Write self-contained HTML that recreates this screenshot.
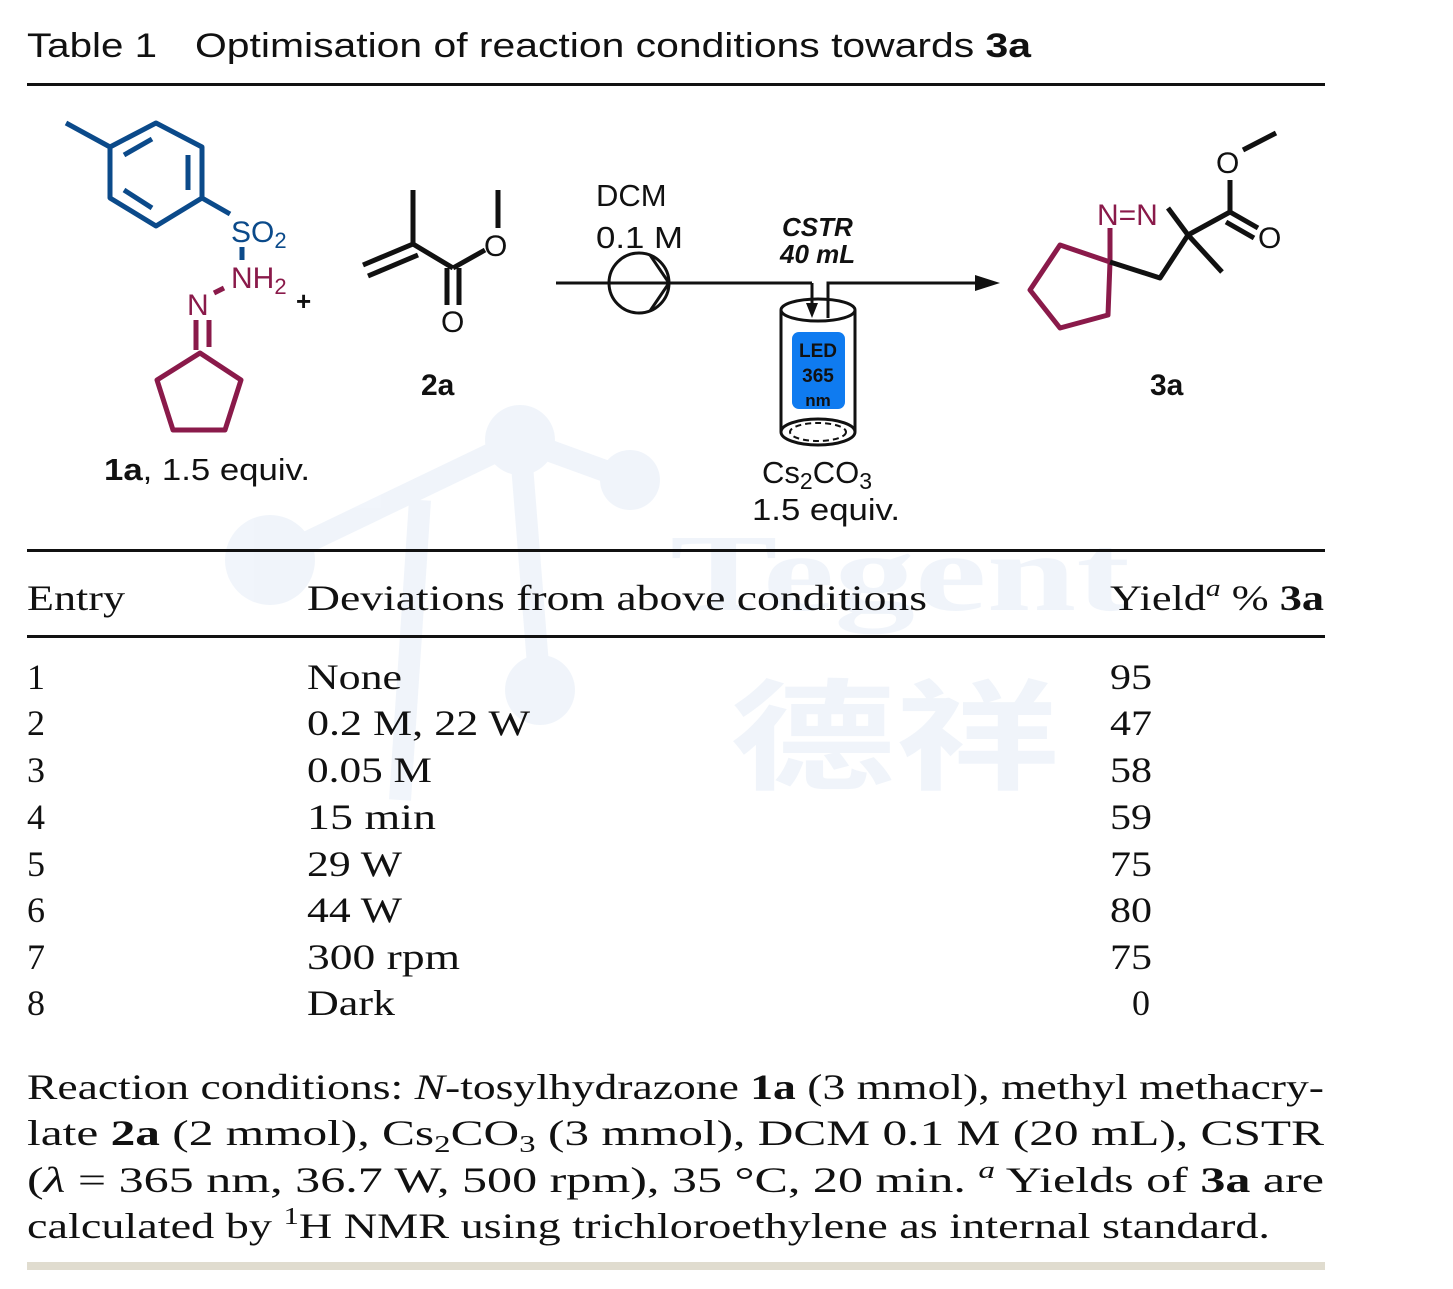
<!DOCTYPE html>
<html><head><meta charset="utf-8"><style>
html,body{margin:0;padding:0;background:#fff;}
svg{display:block;}
.s{font-family:"Liberation Sans",sans-serif;}
.r{font-family:"Liberation Serif",serif;font-size:36px;fill:#111;}
</style></head><body>
<svg width="1453" height="1289" viewBox="0 0 1453 1289" xmlns="http://www.w3.org/2000/svg">
<!-- watermark -->
<g opacity="0.07" fill="#3b78c4" stroke="#3b78c4">
<g stroke-width="22" fill="none"><line x1="270" y1="560" x2="520" y2="440"/><line x1="520" y1="440" x2="630" y2="480"/><line x1="520" y1="440" x2="540" y2="690"/><line x1="420" y1="500" x2="400" y2="800"/></g>
<circle cx="270" cy="560" r="45" stroke="none"/><circle cx="520" cy="440" r="35" stroke="none"/><circle cx="630" cy="480" r="30" stroke="none"/><circle cx="540" cy="690" r="35" stroke="none"/>
<text x="670" y="610" font-family="Liberation Serif,serif" font-weight="bold" font-size="110" stroke="none" textLength="460" lengthAdjust="spacingAndGlyphs">Tegent</text>
<text x="730" y="780" font-family="Noto Sans CJK SC,sans-serif" font-weight="bold" font-size="120" stroke="none" textLength="330" lengthAdjust="spacingAndGlyphs">德祥</text>
</g>
<text x="27" y="57" class="s" font-size="34" fill="#111" textLength="130" lengthAdjust="spacingAndGlyphs">Table 1</text>
<text x="195" y="57" class="s" font-size="34" fill="#111" textLength="836" lengthAdjust="spacingAndGlyphs">Optimisation of reaction conditions towards <tspan font-weight="bold">3a</tspan></text>
<rect x="27" y="83" width="1298" height="3" fill="#111"/>
<!-- 1a -->
<g stroke="#0b4a8a" stroke-width="5" fill="none" stroke-linejoin="round">
<polygon points="110,147 156,123 202,147 202,198 156,226 110,198"/>
<line x1="124" y1="155" x2="152" y2="139"/><line x1="188" y1="155" x2="188" y2="190"/><line x1="124" y1="190" x2="152" y2="208"/>
<line x1="66" y1="123" x2="110" y2="147"/><line x1="202" y1="198" x2="230" y2="214"/>
<line x1="242" y1="247" x2="242" y2="260"/>
</g>
<text x="231" y="242" class="s" font-size="30" fill="#0b4a8a">SO<tspan font-size="22" dy="6">2</tspan></text>
<g stroke="#8a1a4a" stroke-width="5" fill="none" stroke-linejoin="round">
<polygon points="200,353 241,380 225,430 173,430 157,380"/>
<line x1="196" y1="320" x2="196" y2="350"/><line x1="209" y1="320" x2="209" y2="347"/>
<line x1="214" y1="293" x2="224" y2="288"/>
</g>
<text x="231" y="288" class="s" font-size="30" fill="#8a1a4a">NH<tspan font-size="22" dy="6">2</tspan></text>
<text x="187" y="315" class="s" font-size="30" fill="#8a1a4a">N</text>
<text x="296" y="310" class="s" font-size="26" font-weight="bold" fill="#111">+</text>
<text x="104" y="480" class="s" font-size="31" fill="#111" textLength="206" lengthAdjust="spacingAndGlyphs"><tspan font-weight="bold">1a</tspan>, 1.5 equiv.</text>
<!-- 2a -->
<g stroke="#111" stroke-width="5" fill="none">
<line x1="413" y1="190" x2="413" y2="244"/><line x1="413" y1="244" x2="453" y2="268"/>
<line x1="413" y1="244" x2="363" y2="265"/><line x1="418" y1="255" x2="368" y2="276"/>
<line x1="453" y1="268" x2="485" y2="250"/>
<line x1="447" y1="268" x2="447" y2="305"/><line x1="459" y1="268" x2="459" y2="305"/>
<line x1="498" y1="190" x2="498" y2="228"/>
</g>
<text x="484" y="256" class="s" font-size="30" fill="#111">O</text>
<text x="441" y="332" class="s" font-size="30" fill="#111">O</text>
<text x="421" y="395" class="s" font-size="30" font-weight="bold" fill="#111">2a</text>
<!-- flow -->
<g stroke="#111" stroke-width="3" fill="none">
<line x1="556" y1="283" x2="812" y2="283"/><line x1="812" y1="283" x2="812" y2="312"/>
<circle cx="639" cy="283" r="30"/><line x1="650" y1="255" x2="669" y2="283"/><line x1="650" y1="311" x2="669" y2="283"/>
<polyline points="828,318 828,283 985,283"/>
<path d="M781,310 L781,432 M855,310 L855,432"/>
<ellipse cx="818" cy="310" rx="37" ry="11"/><ellipse cx="818" cy="432" rx="37" ry="13"/>
<ellipse cx="818" cy="432" rx="28" ry="9" stroke-dasharray="6,4" stroke-width="2"/>
</g>
<polygon points="1000,283 975,275 975,291" fill="#111"/>
<polygon points="812,318 806,303 818,303" fill="#111"/>
<rect x="792" y="332" width="53" height="77" rx="7" fill="#0f7bf0"/>
<text x="818" y="357" class="s" font-size="19" font-weight="bold" text-anchor="middle" fill="#111">LED</text>
<text x="818" y="382" class="s" font-size="19" font-weight="bold" text-anchor="middle" fill="#111">365</text>
<text x="818" y="406" class="s" font-size="17" font-weight="bold" text-anchor="middle" fill="#111">nm</text>
<text x="596" y="206" class="s" font-size="31" fill="#111">DCM</text>
<text x="596" y="248" class="s" font-size="31" fill="#111" textLength="87" lengthAdjust="spacingAndGlyphs">0.1 M</text>
<text x="782" y="236" class="s" font-size="26" font-weight="bold" font-style="italic" fill="#111">CSTR</text>
<text x="780" y="263" class="s" font-size="26" font-weight="bold" font-style="italic" fill="#111">40 mL</text>
<text x="762" y="483" class="s" font-size="31" fill="#111">Cs<tspan font-size="23" dy="6">2</tspan><tspan dy="-6">CO</tspan><tspan font-size="23" dy="6">3</tspan></text>
<text x="752" y="520" class="s" font-size="31" fill="#111" textLength="148" lengthAdjust="spacingAndGlyphs">1.5 equiv.</text>
<!-- 3a -->
<g stroke="#8a1a4a" stroke-width="5" fill="none" stroke-linejoin="round">
<polygon points="1110,262 1108,315 1060,328 1030,290 1060,245"/>
<line x1="1110" y1="262" x2="1110" y2="228"/>
</g>
<g stroke="#111" stroke-width="5" fill="none" stroke-linejoin="round">
<polyline points="1110,262 1160,278 1188,235 1222,272"/>
<line x1="1188" y1="235" x2="1168" y2="208"/>
<line x1="1188" y1="235" x2="1230" y2="212"/>
<line x1="1230" y1="212" x2="1230" y2="180"/>
<line x1="1230" y1="212" x2="1258" y2="228"/><line x1="1226" y1="222" x2="1254" y2="238"/>
<line x1="1243" y1="150" x2="1276" y2="133"/>
</g>
<text x="1097" y="225" class="s" font-size="30" fill="#8a1a4a">N=N</text>
<text x="1216" y="173" class="s" font-size="30" fill="#111">O</text>
<text x="1258" y="248" class="s" font-size="30" fill="#111">O</text>
<text x="1150" y="395" class="s" font-size="30" font-weight="bold" fill="#111">3a</text>
<!-- table -->
<rect x="27" y="549" width="1298" height="3" fill="#111"/>
<rect x="27" y="635" width="1298" height="3" fill="#111"/>
<text x="27" y="610" class="r" textLength="98" lengthAdjust="spacingAndGlyphs">Entry</text>
<text x="307" y="610" class="r" textLength="620" lengthAdjust="spacingAndGlyphs">Deviations from above conditions</text>
<text x="1110" y="610" class="r" textLength="214" lengthAdjust="spacingAndGlyphs">Yield<tspan font-style="italic" font-size="24" dy="-14">a</tspan><tspan dy="14"> % </tspan><tspan font-weight="bold">3a</tspan></text>
<text x="27" y="689" class="r">1</text><text x="307" y="689" class="r" textLength="95" lengthAdjust="spacingAndGlyphs">None</text><text x="1110" y="689" class="r" textLength="42" lengthAdjust="spacingAndGlyphs">95</text>
<text x="27" y="735" class="r">2</text><text x="307" y="735" class="r" textLength="223" lengthAdjust="spacingAndGlyphs">0.2 M, 22 W</text><text x="1110" y="735" class="r" textLength="42" lengthAdjust="spacingAndGlyphs">47</text>
<text x="27" y="782" class="r">3</text><text x="307" y="782" class="r" textLength="125" lengthAdjust="spacingAndGlyphs">0.05 M</text><text x="1110" y="782" class="r" textLength="42" lengthAdjust="spacingAndGlyphs">58</text>
<text x="27" y="829" class="r">4</text><text x="307" y="829" class="r" textLength="129" lengthAdjust="spacingAndGlyphs">15 min</text><text x="1110" y="829" class="r" textLength="42" lengthAdjust="spacingAndGlyphs">59</text>
<text x="27" y="876" class="r">5</text><text x="307" y="876" class="r" textLength="95" lengthAdjust="spacingAndGlyphs">29 W</text><text x="1110" y="876" class="r" textLength="42" lengthAdjust="spacingAndGlyphs">75</text>
<text x="27" y="922" class="r">6</text><text x="307" y="922" class="r" textLength="95" lengthAdjust="spacingAndGlyphs">44 W</text><text x="1110" y="922" class="r" textLength="42" lengthAdjust="spacingAndGlyphs">80</text>
<text x="27" y="969" class="r">7</text><text x="307" y="969" class="r" textLength="153" lengthAdjust="spacingAndGlyphs">300 rpm</text><text x="1110" y="969" class="r" textLength="42" lengthAdjust="spacingAndGlyphs">75</text>
<text x="27" y="1015" class="r">8</text><text x="307" y="1015" class="r" textLength="88" lengthAdjust="spacingAndGlyphs">Dark</text><text x="1132" y="1015" class="r">0</text>
<text x="27" y="1099" class="r" textLength="1297" lengthAdjust="spacingAndGlyphs">Reaction conditions: <tspan font-style="italic">N</tspan>-tosylhydrazone <tspan font-weight="bold">1a</tspan> (3 mmol), methyl methacry-</text>
<text x="27" y="1145" class="r" textLength="1297" lengthAdjust="spacingAndGlyphs">late  <tspan font-weight="bold">2a</tspan>  (2  mmol),  Cs<tspan font-size="24" dy="7">2</tspan><tspan dy="-7">CO</tspan><tspan font-size="24" dy="7">3</tspan><tspan dy="-7">  (3  mmol),  DCM  0.1  M  (20  mL),  CSTR</tspan></text>
<text x="27" y="1192" class="r" textLength="1297" lengthAdjust="spacingAndGlyphs">(<tspan font-style="italic">λ</tspan>  =  365  nm,  36.7  W,  500  rpm),  35  °C,  20  min.  <tspan font-style="italic" font-size="24" dy="-14">a</tspan><tspan dy="14"> Yields  of  </tspan><tspan font-weight="bold">3a</tspan>  are</text>
<text x="27" y="1238" class="r" textLength="1243" lengthAdjust="spacingAndGlyphs">calculated by <tspan font-size="24" dy="-14">1</tspan><tspan dy="14">H NMR using trichloroethylene as internal standard.</tspan></text>
<rect x="27" y="1262" width="1298" height="8" fill="#e0dccf"/>
</svg>
</body></html>
